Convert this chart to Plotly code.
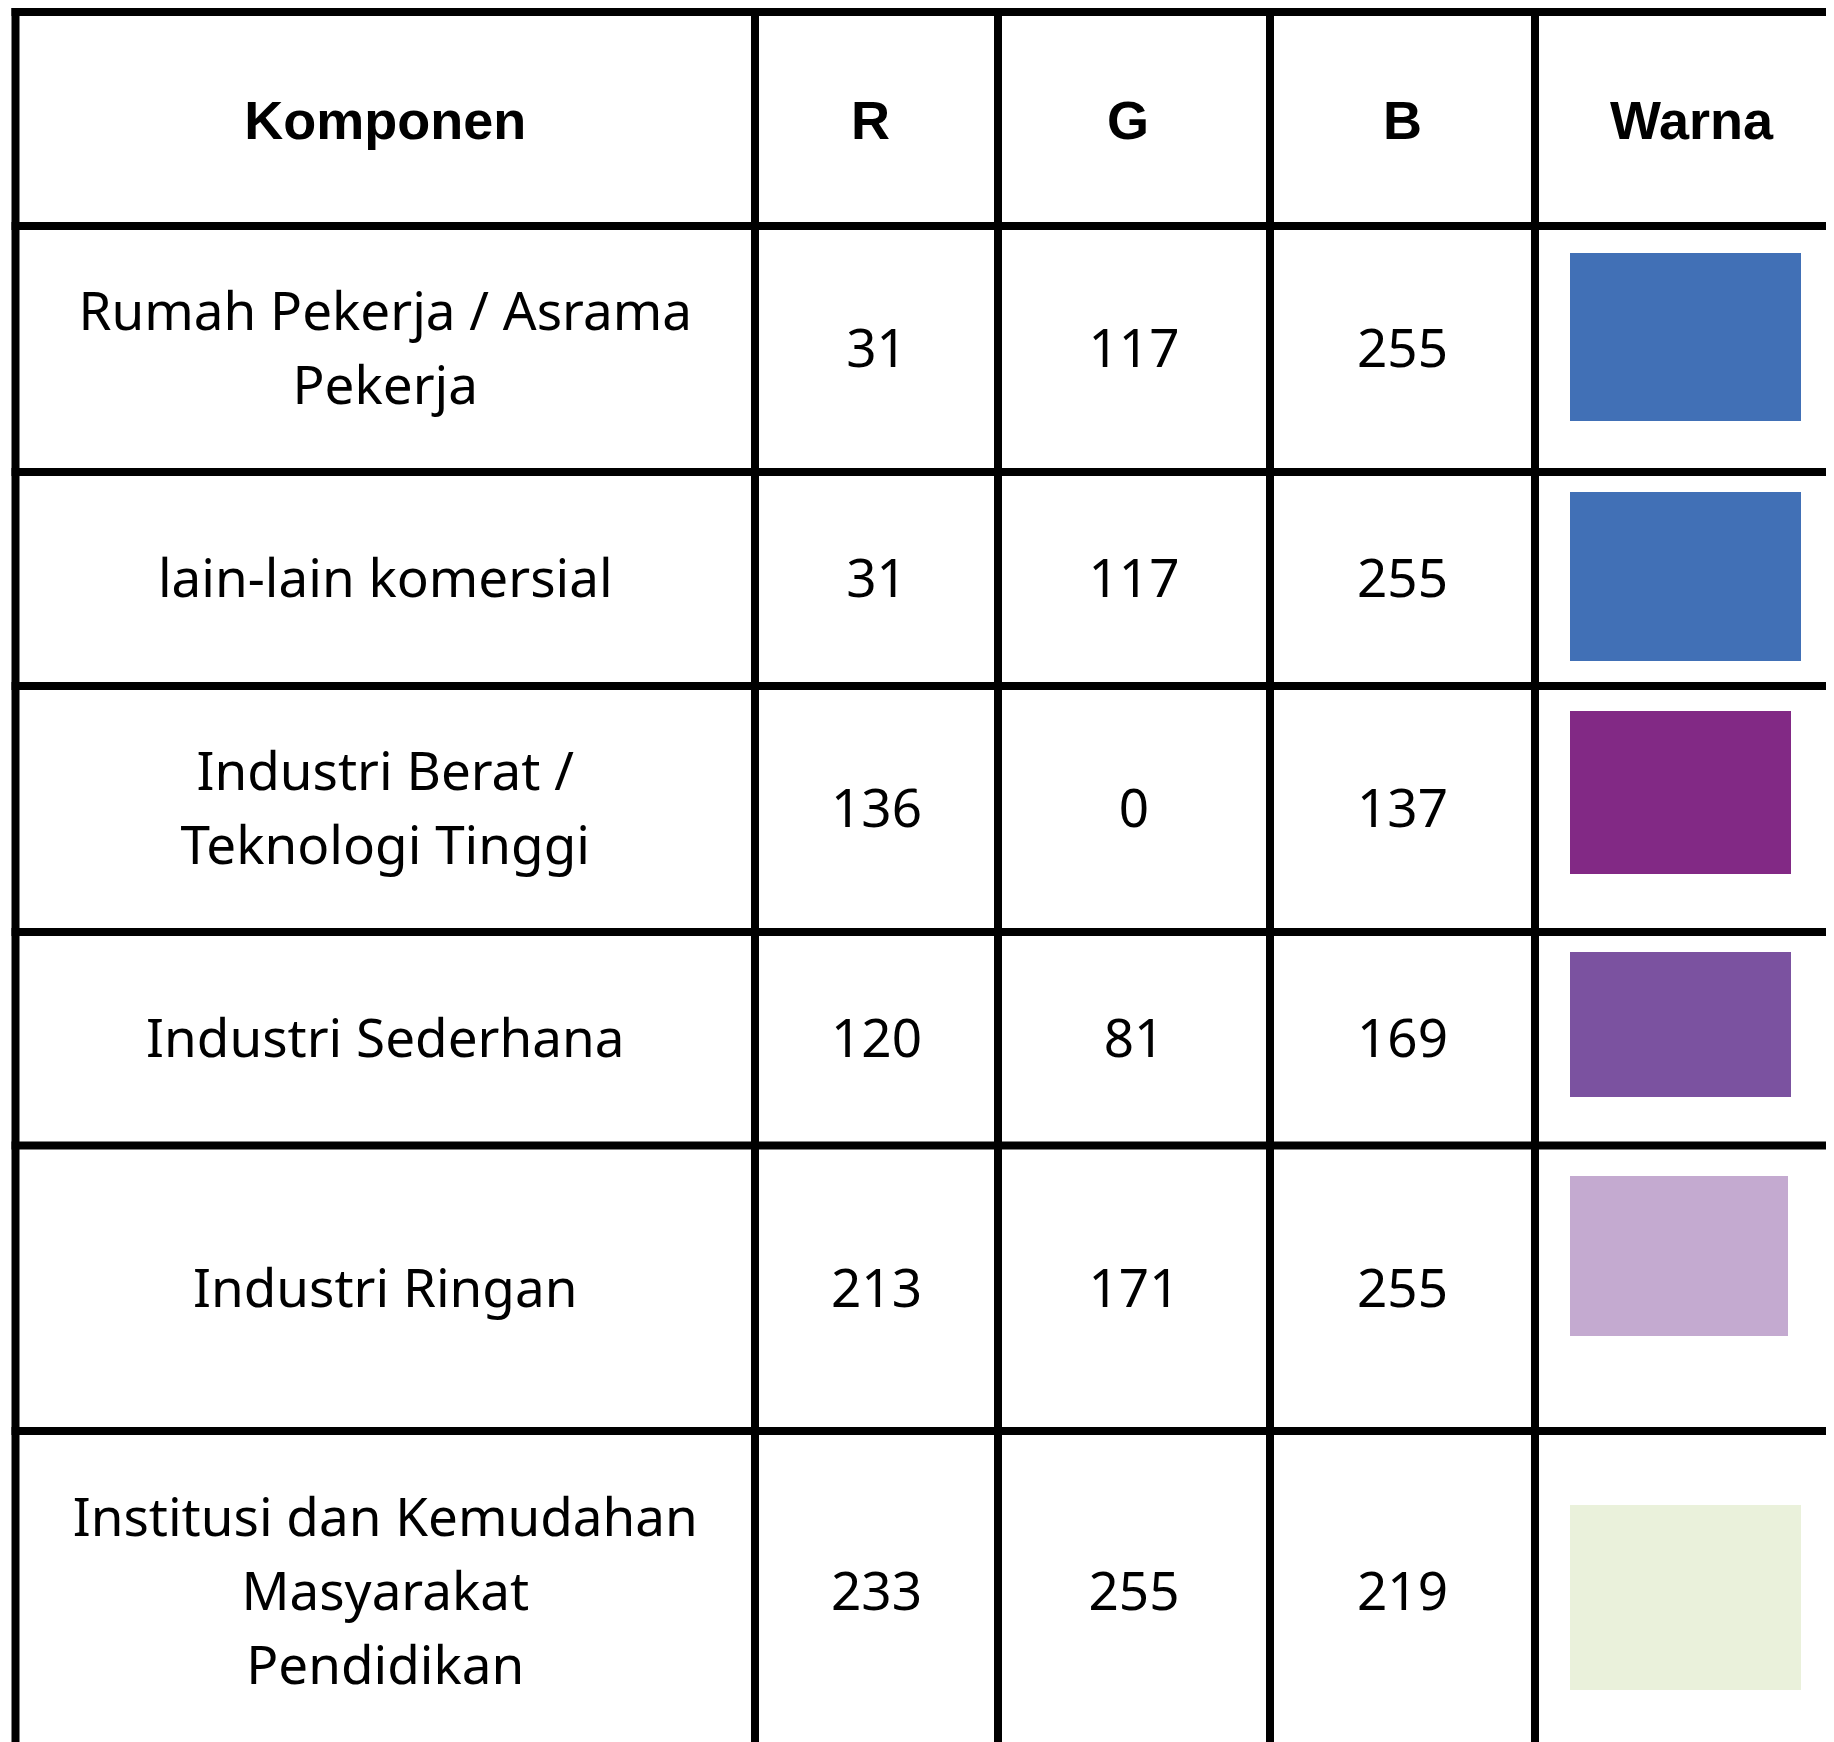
import plotly.graph_objects as go

# ---------------- data ----------------
headers = ["Komponen", "R", "G", "B", "Warna"]
components = [
    ["Rumah Pekerja / Asrama", "Pekerja"],
    ["lain-lain komersial"],
    ["Industri Berat /", "Teknologi Tinggi"],
    ["Industri Sederhana"],
    ["Industri Ringan"],
    ["Institusi dan Kemudahan", "Masyarakat", "Pendidikan"],
]
r_values = [31, 31, 136, 120, 213, 233]
g_values = [117, 117, 0, 81, 171, 255]
b_values = [255, 255, 137, 169, 255, 219]
swatch_colors = ["#4170B6", "#4170B6", "#822985", "#7B52A0", "#C4AAD0", "#EAF1DB"]

# ---------------- layout (page pixels) ----------------
W, H = 1834, 1742
BODY_MARGIN = 8
col_edges = [15.5, 755, 998, 1270, 1535, 1848]
row_edges = [12, 226, 472, 686, 932, 1145.5, 1431, 1753]
LINE_W = 8
LINE_SPACING = 74
HEAD_DY = 6
BODY_DY = 5
head_dx = [0, -6, -6, 0, 0]
swatch_left_inset = 35
swatch_widths = [231, 231, 221, 221, 218, 231]
swatch_top_inset = [27, 20, 25, 20, 30, 74]
swatch_bottom_inset = [51, 25, 58, 49, 95, 63]

HEAD_FONT = dict(family="Liberation Sans, Arial, sans-serif", size=54, color="#000000")
BODY_FONT = dict(family="Noto Sans, Open Sans, sans-serif", size=53, color="#000000")

fig = go.Figure()

# swatches
sw_x, sw_w, sw_base, sw_h = [], [], [], []
for i in range(len(swatch_colors)):
    top = row_edges[i + 1] + swatch_top_inset[i]
    bot = row_edges[i + 2] - swatch_bottom_inset[i]
    left = col_edges[4] + swatch_left_inset
    sw_x.append(left + swatch_widths[i] / 2)
    sw_w.append(swatch_widths[i])
    sw_base.append(top)
    sw_h.append(bot - top)
fig.add_trace(go.Bar(x=sw_x, y=sw_h, base=sw_base, width=sw_w,
                     marker=dict(color=swatch_colors, line=dict(width=0)),
                     hoverinfo="skip", showlegend=False))

# grid lines
half = LINE_W / 2
lx, ly = [], []
for y in row_edges:
    lx += [col_edges[0] - half, col_edges[-1], None]
    ly += [y, y, None]
for x in col_edges[:-1]:
    lx += [x, x, None]
    ly += [row_edges[0] - half, row_edges[-1], None]
fig.add_trace(go.Scatter(x=lx, y=ly, mode="lines",
                         line=dict(color="#000000", width=LINE_W),
                         hoverinfo="skip", showlegend=False))

# header text
col_centers = [(col_edges[i] + col_edges[i + 1]) / 2 for i in range(len(headers))]
head_y = (row_edges[0] + row_edges[1]) / 2 + HEAD_DY
fig.add_trace(go.Scatter(x=[c + d for c, d in zip(col_centers, head_dx)],
                         y=[head_y] * len(headers),
                         text=[f"<b>{h}</b>" for h in headers], mode="text",
                         textposition="middle center", textfont=HEAD_FONT,
                         hoverinfo="skip", showlegend=False))

# body text
tx, ty, tt = [], [], []
for i, lines in enumerate(components):
    cy = (row_edges[i + 1] + row_edges[i + 2]) / 2 + BODY_DY
    n = len(lines)
    for k, line in enumerate(lines):
        tx.append(col_centers[0])
        ty.append(cy + (k - (n - 1) / 2) * LINE_SPACING)
        tt.append(line)
    for j, vals in enumerate([r_values, g_values, b_values]):
        tx.append(col_centers[j + 1])
        ty.append(cy)
        tt.append(str(vals[i]))
fig.add_trace(go.Scatter(x=tx, y=ty, text=tt, mode="text",
                         textposition="middle center", textfont=BODY_FONT,
                         hoverinfo="skip", showlegend=False))

# figure starts at the body margin and runs to the window edge
FIG_W = W - BODY_MARGIN
fig.update_layout(
    width=FIG_W, height=H - BODY_MARGIN,
    margin=dict(l=0, r=0, t=0, b=0),
    paper_bgcolor="#ffffff", plot_bgcolor="#ffffff",
    barmode="overlay", bargap=0,
    xaxis=dict(range=[BODY_MARGIN, BODY_MARGIN + FIG_W], visible=False, fixedrange=True),
    yaxis=dict(range=[H, BODY_MARGIN], visible=False, fixedrange=True),
)

fig.write_html("out.html")
